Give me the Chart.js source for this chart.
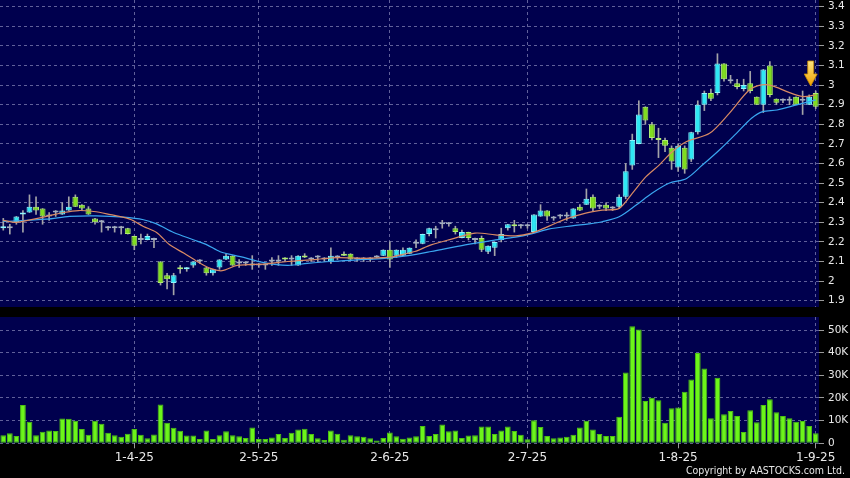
<!DOCTYPE html>
<html>
<head>
<meta charset="utf-8">
<script src="https://cdn.jsdelivr.net/npm/chart.js@4.4.1/dist/chart.umd.min.js"></script>
<style>
    html, body { margin: 0; padding: 0; background: #000; }
    body { width: 850px; height: 478px; position: relative; overflow: hidden; }
    #graficaPrecio { position: absolute; left: 0; top: 0; }
    #graficaVolumen { position: absolute; left: 0; top: 317px; }
    #copy {
        position: absolute; right: 5px; top: 464px; color: #e6e6e6;
        font: 10.5px "DejaVu Sans Condensed", "DejaVu Sans", sans-serif; white-space: nowrap;
    }
</style>
</head>
<body>
<canvas id="graficaPrecio" width="850" height="307"></canvas>
<canvas id="graficaVolumen" width="850" height="161"></canvas>
<div id="copy">Copyright by AASTOCKS.com Ltd.</div>
<script>
    // datos (125 sesiones diarias)
    const tickIdx = [20, 39, 59, 80, 103, 124];
    const tickLabels = ['1-4-25', '2-5-25', '2-6-25', '2-7-25', '1-8-25', '1-9-25'];
    const priceTicks = [1.9, 2, 2.1, 2.2, 2.3, 2.4, 2.5, 2.6, 2.7, 2.8, 2.9, 3, 3.1, 3.2, 3.3, 3.4];
    const volTicks = [0, 10000, 20000, 30000, 40000, 50000];

    const opens = [
        2.27, 2.27, 2.30, 2.34, 2.35, 2.38, 2.37, 2.33, 2.35, 2.34,
        2.36, 2.43, 2.39, 2.37, 2.32, 2.30, 2.27, 2.27, 2.27, 2.27,
        2.23, 2.21, 2.21, 2.21, 2.10, 2.03, 1.99, 2.07, 2.06, 2.08,
        2.10, 2.07, 2.04, 2.07, 2.11, 2.13, 2.09, 2.09, 2.08, 2.08,
        2.08, 2.10, 2.10, 2.12, 2.11, 2.08, 2.13, 2.11, 2.12, 2.11,
        2.10, 2.12, 2.14, 2.14, 2.11, 2.11, 2.11, 2.12, 2.13, 2.16,
        2.13, 2.13, 2.14, 2.19, 2.19, 2.24, 2.26, 2.29, 2.29, 2.27,
        2.22, 2.25, 2.21, 2.22, 2.15, 2.17, 2.21, 2.27, 2.29, 2.28,
        2.28, 2.25, 2.33, 2.36, 2.32, 2.33, 2.33, 2.32, 2.38, 2.39,
        2.43, 2.38, 2.39, 2.37, 2.38, 2.43, 2.59, 2.70, 2.89, 2.80,
        2.73, 2.72, 2.68, 2.58, 2.68, 2.62, 2.76, 2.90, 2.96, 2.96,
        3.11, 3.02, 3.01, 2.98, 3.01, 2.94, 2.90, 3.10, 2.93, 2.92,
        2.92, 2.94, 2.92, 2.90, 2.96
    ];
    const closes = [
        2.28, 2.27, 2.33, 2.35, 2.38, 2.36, 2.33, 2.33, 2.35, 2.36,
        2.38, 2.38, 2.37, 2.34, 2.30, 2.30, 2.27, 2.27, 2.27, 2.24,
        2.18, 2.21, 2.23, 2.21, 1.99, 2.01, 2.03, 2.06, 2.07, 2.10,
        2.10, 2.04, 2.06, 2.11, 2.13, 2.08, 2.09, 2.09, 2.09, 2.08,
        2.08, 2.10, 2.10, 2.11, 2.11, 2.13, 2.12, 2.11, 2.12, 2.11,
        2.13, 2.12, 2.13, 2.11, 2.11, 2.11, 2.11, 2.12, 2.16, 2.11,
        2.16, 2.16, 2.17, 2.19, 2.24, 2.27, 2.26, 2.29, 2.29, 2.25,
        2.25, 2.22, 2.21, 2.16, 2.18, 2.20, 2.24, 2.29, 2.28, 2.28,
        2.28, 2.34, 2.36, 2.33, 2.32, 2.33, 2.33, 2.37, 2.36, 2.42,
        2.37, 2.38, 2.37, 2.37, 2.43, 2.56, 2.72, 2.85, 2.82, 2.73,
        2.72, 2.69, 2.61, 2.69, 2.57, 2.76, 2.90, 2.96, 2.93, 3.11,
        3.03, 3.02, 2.99, 3.00, 2.97, 2.90, 3.08, 2.95, 2.91, 2.92,
        2.92, 2.90, 2.92, 2.94, 2.89
    ];
    const highs = [
        2.32, 2.29, 2.33, 2.36, 2.44, 2.43, 2.37, 2.35, 2.36, 2.40,
        2.43, 2.44, 2.39, 2.38, 2.32, 2.31, 2.28, 2.28, 2.28, 2.27,
        2.23, 2.24, 2.24, 2.22, 2.10, 2.04, 2.04, 2.08, 2.07, 2.10,
        2.11, 2.07, 2.06, 2.11, 2.14, 2.13, 2.11, 2.10, 2.13, 2.09,
        2.09, 2.12, 2.13, 2.12, 2.13, 2.13, 2.14, 2.12, 2.13, 2.12,
        2.17, 2.13, 2.15, 2.14, 2.12, 2.12, 2.12, 2.13, 2.16, 2.20,
        2.16, 2.17, 2.17, 2.21, 2.24, 2.27, 2.28, 2.31, 2.30, 2.28,
        2.26, 2.25, 2.22, 2.23, 2.18, 2.20, 2.27, 2.29, 2.31, 2.29,
        2.29, 2.34, 2.39, 2.36, 2.33, 2.34, 2.35, 2.37, 2.39, 2.47,
        2.44, 2.39, 2.40, 2.38, 2.44, 2.60, 2.75, 2.92, 2.89, 2.81,
        2.78, 2.73, 2.69, 2.70, 2.69, 2.76, 2.92, 2.97, 2.98, 3.16,
        3.11, 3.05, 3.03, 3.03, 3.07, 2.94, 3.08, 3.12, 2.93, 2.93,
        2.94, 2.94, 2.97, 2.95, 2.97
    ];
    const lows = [
        2.26, 2.24, 2.29, 2.25, 2.35, 2.34, 2.29, 2.31, 2.33, 2.34,
        2.36, 2.38, 2.36, 2.34, 2.29, 2.25, 2.26, 2.25, 2.24, 2.24,
        2.16, 2.19, 2.21, 2.17, 1.98, 1.96, 1.93, 2.04, 2.05, 2.07,
        2.09, 2.03, 2.03, 2.06, 2.11, 2.08, 2.07, 2.08, 2.06, 2.07,
        2.06, 2.08, 2.08, 2.10, 2.08, 2.08, 2.12, 2.10, 2.10, 2.10,
        2.09, 2.11, 2.13, 2.11, 2.10, 2.10, 2.10, 2.12, 2.13, 2.07,
        2.12, 2.13, 2.14, 2.17, 2.19, 2.23, 2.22, 2.27, 2.28, 2.24,
        2.22, 2.21, 2.19, 2.15, 2.14, 2.13, 2.20, 2.26, 2.25, 2.27,
        2.27, 2.25, 2.33, 2.31, 2.31, 2.32, 2.31, 2.32, 2.36, 2.39,
        2.36, 2.37, 2.36, 2.36, 2.37, 2.42, 2.57, 2.70, 2.80, 2.72,
        2.63, 2.66, 2.57, 2.56, 2.55, 2.61, 2.75, 2.87, 2.92, 2.95,
        3.02, 3.01, 2.98, 2.97, 2.96, 2.90, 2.86, 2.94, 2.90, 2.91,
        2.90, 2.90, 2.85, 2.90, 2.88
    ];
    const volumes = [
        3600, 4400, 3200, 16900, 9500, 3500, 5100, 5700, 5400, 10900,
        10800, 9900, 6300, 3800, 9900, 8600, 4700, 3500, 2900, 4200,
        6300, 3800, 2200, 3900, 17100, 9100, 6900, 5500, 3400, 3400,
        1900, 5700, 1900, 3600, 5300, 3500, 3100, 2300, 7000, 1900,
        1900, 2600, 4100, 2300, 4700, 6100, 6400, 4100, 2200, 1500,
        5700, 4200, 1600, 3600, 3100, 2900, 2200, 1200, 2300, 4800,
        3100, 2000, 2600, 3100, 7600, 3200, 4100, 8300, 5300, 5700,
        2300, 3400, 3500, 7400, 7400, 4100, 5700, 7400, 5400, 3800,
        1800, 10200, 7200, 3200, 2200, 2600, 2900, 3800, 7000, 9900,
        6100, 4100, 3200, 3200, 11700, 31200, 51700, 50200, 18700, 20100,
        19000, 9100, 15500, 15800, 22800, 28200, 39900, 33000, 11100, 28900,
        12800, 14200, 12100, 5000, 14600, 9300, 16900, 19400, 13700, 12000,
        11100, 9500, 9800, 7600, 4400
    ];

    // medias moviles (posicion en sesiones, precio)
    const maCortaX = [0, 2, 6.6, 9.2, 11.5, 13.8, 15.8, 19.3, 21.4, 23.4, 25.4, 27.6, 29.6, 31.6, 33.4, 35.7,
        39.8, 43.4, 47.5, 51, 55.2, 59.2, 60.2, 62.8, 65.3, 68.4, 72, 75.1, 78.2, 80.6, 83.2, 85.8, 88.9,
        91.4, 94, 96, 98.1, 100.1, 102.1, 104.3, 107.8, 110.8, 113.9, 115.8, 117.4, 119.6, 122, 124];
    const maCortaY = [2.31, 2.30, 2.33, 2.35, 2.36, 2.355, 2.343, 2.316, 2.279, 2.248, 2.185, 2.142, 2.10, 2.065, 2.053, 2.08,
        2.087, 2.10, 2.11, 2.12, 2.116, 2.122, 2.13, 2.151, 2.185, 2.214, 2.245, 2.236, 2.231, 2.245, 2.279, 2.316, 2.347,
        2.362, 2.371, 2.448, 2.533, 2.592, 2.66, 2.712, 2.754, 2.856, 2.976, 3.001, 2.996, 2.967, 2.942, 2.95];
    const maLargaX = [0, 6.6, 10.1, 14.2, 18.4, 21.4, 23.4, 26, 29.1, 31.1, 33.1, 36.2, 39.8, 43.4, 46.4, 50, 54,
        58.2, 61.8, 65.3, 70.5, 74.5, 78.2, 80.6, 83.2, 86.8, 89.4, 91.4, 94, 96.6, 99, 101.6, 104.3, 106.7,
        109.3, 111.9, 114.2, 115.9, 118.1, 121.1, 124];
    const maLargaY = [2.304, 2.316, 2.33, 2.333, 2.326, 2.313, 2.292, 2.248, 2.21, 2.185, 2.15, 2.125, 2.094, 2.08, 2.09, 2.10, 2.108,
        2.116, 2.13, 2.151, 2.185, 2.207, 2.224, 2.241, 2.265, 2.282, 2.292, 2.303, 2.328, 2.388, 2.448, 2.499, 2.524, 2.592,
        2.669, 2.754, 2.831, 2.865, 2.873, 2.899, 2.925];

    const FONDO = '#00004e';
    const REJILLA = 'rgba(160,160,205,0.6)';
    const TEXTO = '#e8e8e8';
    const n = closes.length;

    Chart.defaults.font.family = '"DejaVu Sans", sans-serif';

    const fondoPlugin = {
        id: 'fondo',
        beforeDraw(chart) {
            const a = chart.chartArea;
            chart.ctx.save();
            chart.ctx.fillStyle = FONDO;
            chart.ctx.fillRect(a.left, a.top, a.right - a.left, a.bottom - a.top);
            chart.ctx.restore();
        }
    };

    // flecha amarilla sobre la ultima vela
    const flechaPlugin = {
        id: 'flecha',
        afterDatasetsDraw(chart) {
            const ctx = chart.ctx;
            const cx = chart.scales.x.getPixelForValue(n - 1) - 5;
            const punta = chart.scales.y.getPixelForValue(highs[n - 1]) - 5;
            const g = ctx.createLinearGradient(0, punta - 25, 0, punta);
            g.addColorStop(0, '#ffe680');
            g.addColorStop(1, '#f0a000');
            ctx.save();
            ctx.beginPath();
            ctx.moveTo(cx - 3, punta - 25);
            ctx.lineTo(cx + 3, punta - 25);
            ctx.lineTo(cx + 3, punta - 12);
            ctx.lineTo(cx + 6.5, punta - 12);
            ctx.lineTo(cx, punta);
            ctx.lineTo(cx - 6.5, punta - 12);
            ctx.lineTo(cx - 3, punta - 12);
            ctx.closePath();
            ctx.fillStyle = g;
            ctx.fill();
            ctx.strokeStyle = '#c88a00';
            ctx.lineWidth = 0.8;
            ctx.stroke();
            ctx.restore();
        }
    };

    function colorVela(i, sube, baja, plana) {
        if (closes[i] > opens[i]) return sube;
        if (closes[i] < opens[i]) return baja;
        return plana;
    }

    function ejeX(conEtiquetas) {
        return {
            type: 'linear',
            min: -0.5,
            max: n - 0.5,
            offset: false,
            bounds: 'data',
            afterBuildTicks: s => { s.ticks = tickIdx.map(v => ({ value: v })); },
            afterFit: s => {
                s.height = conEtiquetas ? 34.7 : 0;
                s.paddingLeft = 0;
                s.paddingRight = 0;
            },
            ticks: {
                display: conEtiquetas,
                autoSkip: false,
                maxRotation: 0,
                padding: 2.5,
                color: TEXTO,
                font: { size: 12 },
                callback: v => tickLabels[tickIdx.indexOf(v)]
            },
            grid: { color: REJILLA, offset: false, drawTicks: conEtiquetas, tickLength: 5, tickColor: '#999999' },
            border: { display: false, dash: [3, 3] }
        };
    }

    function ejeY(min, max, valores, formato) {
        return {
            type: 'linear',
            position: 'right',
            min: min,
            max: max,
            bounds: 'data',
            beginAtZero: false,
            afterBuildTicks: s => { s.ticks = valores.map(v => ({ value: v })); },
            afterFit: s => {
                s.width = 31;
                s.paddingTop = 0;
                s.paddingBottom = 0;
            },
            ticks: { color: TEXTO, padding: 4, font: { size: 10.5 }, callback: formato },
            grid: { color: REJILLA, tickLength: 5, tickColor: '#999999' },
            border: { display: false, dash: [3, 3] }
        };
    }

    const opcionesBase = {
        responsive: false,
        animation: false,
        devicePixelRatio: 1,
        layout: { padding: 0, autoPadding: false },
        plugins: { legend: { display: false }, tooltip: { enabled: false } }
    };

    // Velas + medias
    new Chart(document.getElementById('graficaPrecio'), {
        type: 'bar',
        data: {
            datasets: [
                {
                    type: 'line',
                    data: maCortaX.map((x, i) => ({ x: x, y: maCortaY[i] })),
                    borderColor: '#d98a64',
                    borderWidth: 1.2,
                    pointRadius: 0,
                    tension: 0.3,
                    order: 0
                },
                {
                    type: 'line',
                    data: maLargaX.map((x, i) => ({ x: x, y: maLargaY[i] })),
                    borderColor: '#3aa6f0',
                    borderWidth: 1.2,
                    pointRadius: 0,
                    tension: 0.3,
                    order: 0
                },
                {
                    data: opens.map((o, i) => ({ x: i, y: [o, closes[i]] })),
                    backgroundColor: c => colorVela(c.dataIndex, '#2fe8f4', '#80dc20', '#8e9cb4'),
                    borderColor: c => colorVela(c.dataIndex, '#8cf6ff', '#b0ee70', '#a0acc0'),
                    borderWidth: 1,
                    borderSkipped: false,
                    grouped: false,
                    barPercentage: 0.9,
                    categoryPercentage: 1,
                    minBarLength: 2,
                    order: 1
                },
                {
                    data: lows.map((l, i) => ({ x: i, y: [l, highs[i]] })),
                    backgroundColor: '#a4a4a8',
                    barThickness: 1,
                    grouped: false,
                    order: 2
                }
            ]
        },
        options: {
            ...opcionesBase,
            scales: {
                x: ejeX(false),
                y: ejeY(1.8679, 3.4342, priceTicks, v => String(v))
            }
        },
        plugins: [fondoPlugin, flechaPlugin]
    });

    // Volumen
    new Chart(document.getElementById('graficaVolumen'), {
        type: 'bar',
        data: {
            datasets: [{
                data: volumes.map((v, i) => ({ x: i, y: v })),
                backgroundColor: '#6cf51a',
                borderColor: '#4cc012',
                borderWidth: 1,
                borderSkipped: false,
                barPercentage: 0.88,
                categoryPercentage: 1
            }]
        },
        options: {
            ...opcionesBase,
            scales: {
                x: ejeX(true),
                y: ejeY(0, 55740, volTicks, v => v === 0 ? '0' : (v / 1000) + 'K')
            }
        },
        plugins: [fondoPlugin]
    });
</script>
</body>
</html>
